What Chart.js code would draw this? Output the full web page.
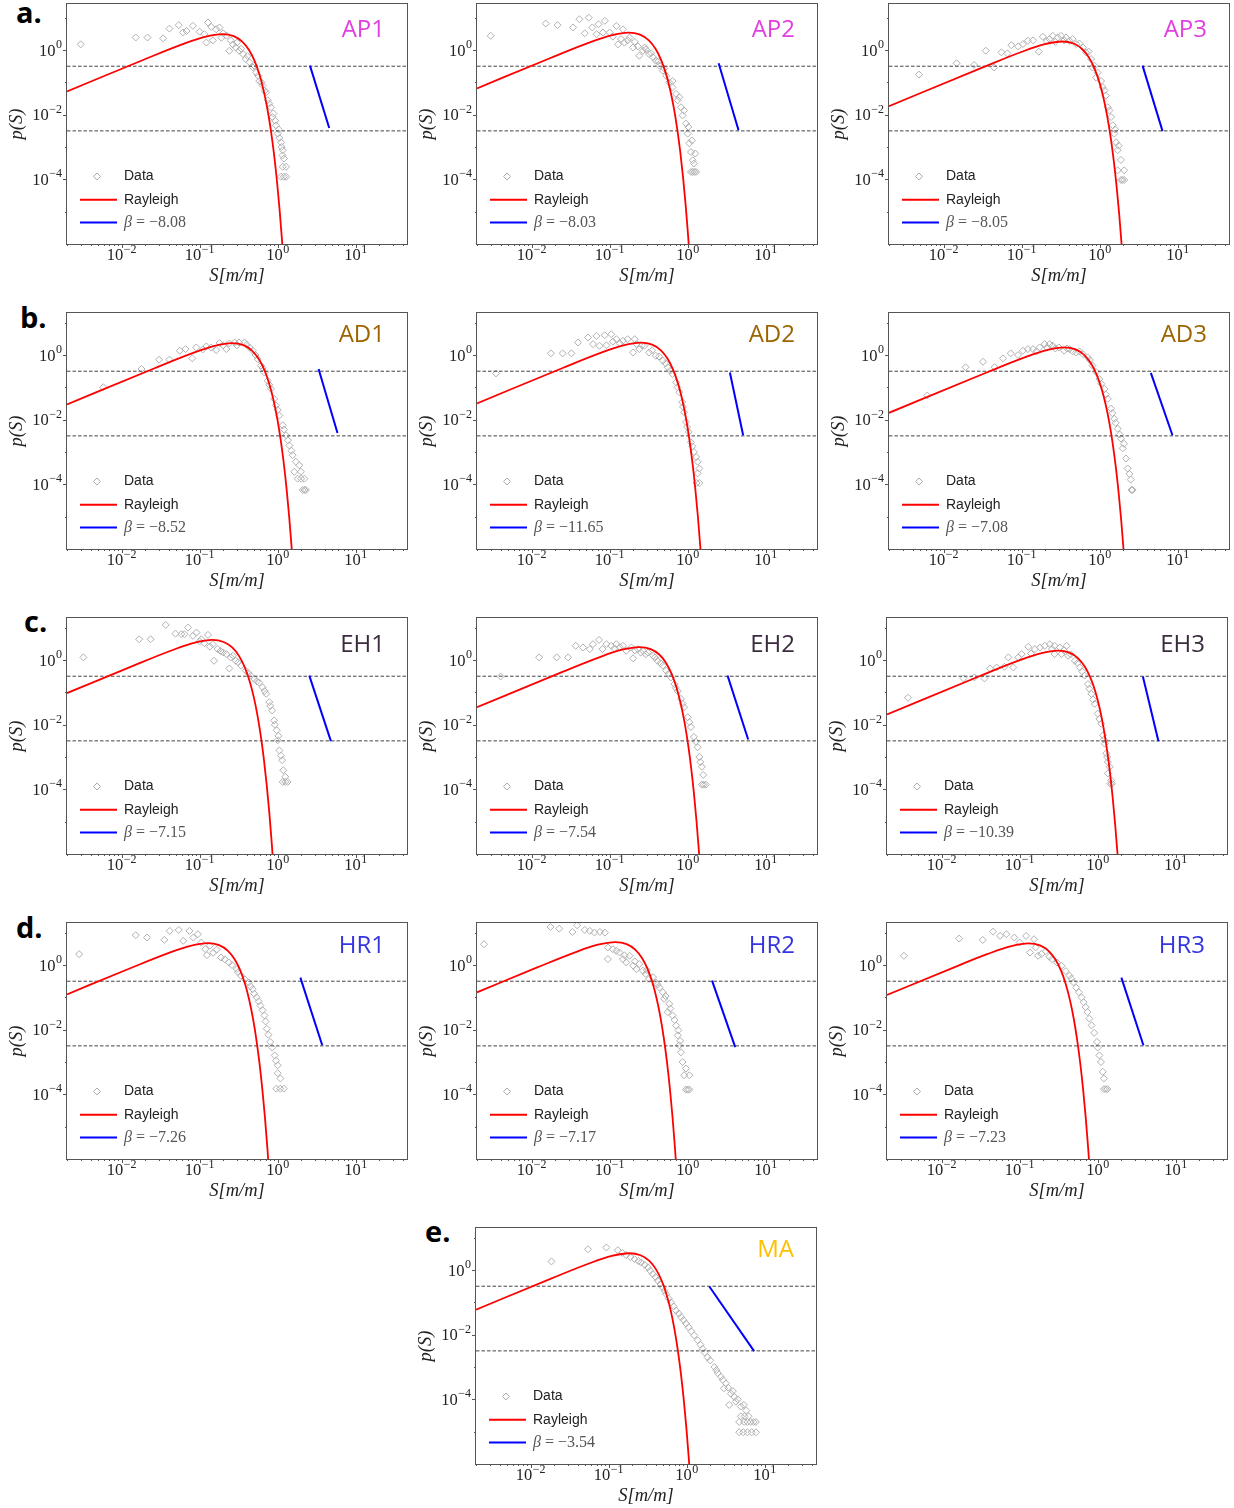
<!DOCTYPE html>
<html>
<head>
<meta charset="utf-8">
<script src="https://cdn.jsdelivr.net/npm/chart.js@4.4.1/dist/chart.umd.min.js"></script>
<style>
  body { margin: 0; background: #fff; width: 1234px; height: 1508px; position: relative; overflow: hidden; }
  canvas { position: absolute; }
  .tag { position: absolute; font: bold 29px "Open Sans", sans-serif; line-height: 29px; color: #000; white-space: nowrap; }
  .plab { position: absolute; font: 24px "Open Sans", sans-serif; line-height: 24px; white-space: nowrap; }
</style>
</head>
<body>
<script>
// axis ranges and ticks
const X_MIN = 0.002, X_MAX = 45.3;
const REF_LINES = [0.316, 0.00316];
const X_MAJOR = [0.01, 0.1, 1, 10];
const X_TICK_LABELS = ['−2', '−1', '0', '1'];
const Y_MAJOR = [1e-4, 1e-2, 1];
const Y_TICK_LABELS = ['−4', '−2', '0'];
const Y_MINOR = [1e-5, 1e-3, 1e-1, 10];

// scattered data [S, p(S)]
const AP1_DATA = [[0.003,1.5],[0.0152,2.45],[0.0215,2.45],[0.034,2.3],[0.041,4.6],[0.054,5.9],[0.061,3.5],[0.068,3.9],[0.082,5.6],[0.1,3.7],[0.115,3.1],[0.122,1.7],[0.128,7.1],[0.141,5.2],[0.148,2.0],[0.163,4.4],[0.18,5.0],[0.19,2.4],[0.2,3.3],[0.22,2.8],[0.24,0.95],[0.25,2.0],[0.267,1.5],[0.29,1.2],[0.3,1.7],[0.32,0.95],[0.34,1.1],[0.36,0.75],[0.39,0.53],[0.41,0.65],[0.435,0.42],[0.48,0.29],[0.5,0.33],[0.53,0.2],[0.56,0.16],[0.58,0.11],[0.62,0.1],[0.64,0.08],[0.68,0.055],[0.71,0.05],[0.745,0.028],[0.78,0.022],[0.82,0.017],[0.86,0.0085],[0.88,0.011],[0.95,0.0047],[0.93,0.0065],[1.0,0.0026],[1.03,0.0035],[1.1,0.0014],[1.05,0.0019],[1.16,8e-4],[1.12,1.0e-3],[1.2,4.4e-4],[1.15,5.5e-4],[1.28,2.45e-4],[1.16,2.45e-4],[1.1,1.2e-4],[1.2,1.2e-4],[1.28,1.2e-4]];
const AP2_DATA = [[0.003,2.76],[0.0152,6.6],[0.0215,5.9],[0.034,5.0],[0.041,9.0],[0.048,3.3],[0.054,10.1],[0.06,5.0],[0.068,3.1],[0.072,6.3],[0.082,3.5],[0.087,8.0],[0.1,3.5],[0.11,2.6],[0.122,5.6],[0.128,1.5],[0.14,2.2],[0.148,4.4],[0.155,1.7],[0.17,2.0],[0.18,2.45],[0.2,1.2],[0.21,1.8],[0.23,1.3],[0.24,0.67],[0.267,0.95],[0.28,1.2],[0.29,1.05],[0.32,0.75],[0.34,0.8],[0.36,0.6],[0.39,0.47],[0.42,0.45],[0.435,0.33],[0.48,0.23],[0.5,0.27],[0.53,0.16],[0.58,0.1],[0.64,0.11],[0.64,0.07],[0.71,0.044],[0.745,0.028],[0.78,0.035],[0.82,0.017],[0.86,0.0095],[0.9,0.0135],[0.95,0.0053],[1.0,0.0026],[1.02,0.0042],[1.05,0.0013],[1.1,7e-4],[1.13,0.0016],[1.16,3.9e-4],[1.2,3.1e-4],[1.25,6.3e-4],[1.1,1.7e-4],[1.16,1.7e-4],[1.22,1.7e-4],[1.28,1.7e-4]];
const AP3_DATA = [[0.00484,0.174],[0.0147,0.39],[0.0246,0.345],[0.0347,0.954],[0.0443,0.29],[0.055,0.85],[0.0656,0.79],[0.0738,1.42],[0.09,1.3],[0.104,1.53],[0.12,1.94],[0.14,2.0],[0.166,0.89],[0.187,2.57],[0.21,1.9],[0.228,2.18],[0.251,2.76],[0.27,1.8],[0.29,2.45],[0.32,2.76],[0.35,2.0],[0.37,2.45],[0.41,1.94],[0.45,2.18],[0.5,1.53],[0.55,1.6],[0.61,1.2],[0.67,0.85],[0.72,0.9],[0.775,0.53],[0.81,0.29],[0.855,0.33],[0.9,0.14],[0.94,0.2],[1.04,0.11],[1.09,0.071],[1.15,0.056],[1.2,0.039],[1.27,0.017],[1.33,0.0135],[1.4,0.0085],[1.47,0.0047],[1.54,0.0026],[1.58,0.0035],[1.62,0.0014],[1.7,8e-4],[1.75,1.1e-3],[1.87,4e-4],[1.7,1.9e-4],[2.06,1.9e-4],[1.87,9.6e-5],[1.95,9.6e-5],[2.06,9.6e-5]];
const AD1_DATA = [[0.00583,0.101],[0.018,0.37],[0.0303,0.72],[0.041,0.72],[0.0557,1.36],[0.066,1.53],[0.0805,0.79],[0.0906,1.72],[0.11,1.5],[0.122,1.85],[0.14,1.7],[0.163,1.42],[0.18,2.34],[0.2,2.0],[0.22,1.53],[0.24,2.29],[0.28,2.45],[0.3,2.0],[0.32,2.45],[0.375,2.45],[0.4,2.1],[0.435,1.72],[0.48,1.36],[0.52,1.0],[0.556,0.75],[0.61,0.47],[0.64,0.4],[0.675,0.29],[0.745,0.16],[0.78,0.12],[0.82,0.09],[0.9,0.044],[0.95,0.0276],[1.0,0.02],[1.05,0.0135],[1.16,0.0067],[1.2,0.005],[1.28,0.0033],[1.35,0.0023],[1.41,0.0016],[1.55,8e-4],[1.5,1.1e-3],[1.71,5e-4],[1.63,2.45e-4],[1.89,3.9e-4],[1.98,2.45e-4],[1.8,1.5e-4],[2.19,1.5e-4],[2.0,1.5e-4],[2.09,6.7e-5],[2.3,6.7e-5],[2.2,6.7e-5]];
const AD2_DATA = [[0.0035,0.27],[0.0177,1.13],[0.025,1.13],[0.0324,1.13],[0.0394,2.45],[0.0529,3.5],[0.0612,2.18],[0.0676,3.9],[0.074,1.94],[0.0865,4.1],[0.091,2.0],[0.105,4.4],[0.11,2.6],[0.122,3.1],[0.135,2.3],[0.148,2.76],[0.17,3.1],[0.2,1.2],[0.21,3.1],[0.22,2.2],[0.24,1.53],[0.26,2.0],[0.28,1.94],[0.32,1.2],[0.35,1.4],[0.39,0.95],[0.43,0.9],[0.48,0.67],[0.52,0.55],[0.556,0.42],[0.6,0.33],[0.64,0.26],[0.71,0.144],[0.74,0.1],[0.78,0.071],[0.85,0.035],[0.87,0.025],[0.9,0.017],[0.95,0.0085],[0.98,0.006],[1.03,0.0042],[1.1,0.002],[1.15,0.0015],[1.2,0.001],[1.28,7e-4],[1.34,5e-4],[1.41,3.1e-4],[1.34,2.2e-4],[1.3,1.1e-4],[1.41,1.1e-4]];
const AD3_DATA = [[0.00618,0.056],[0.0191,0.42],[0.032,0.62],[0.045,0.42],[0.0577,0.79],[0.0725,1.13],[0.09,1.0],[0.104,1.36],[0.12,1.53],[0.14,1.53],[0.155,1.3],[0.17,1.72],[0.197,2.18],[0.21,1.7],[0.228,2.18],[0.25,1.94],[0.27,1.6],[0.3,1.72],[0.35,1.36],[0.38,1.6],[0.41,1.53],[0.45,1.3],[0.5,1.2],[0.55,1.3],[0.61,1.07],[0.7,0.85],[0.75,0.7],[0.81,0.47],[0.9,0.3],[0.99,0.18],[1.05,0.13],[1.15,0.09],[1.2,0.06],[1.27,0.044],[1.4,0.022],[1.45,0.016],[1.54,0.0107],[1.6,0.008],[1.7,0.0053],[1.87,0.0026],[1.8,0.0035],[1.97,0.0013],[2.05,0.0018],[2.17,6.3e-4],[2.28,3.1e-4],[2.4,2.1e-4],[2.5,1.4e-4],[2.64,6.7e-5],[2.55,6.7e-5]];
const EH1_DATA = [[0.00324,1.21],[0.0168,4.4],[0.0236,4.4],[0.0368,12.2],[0.049,6.6],[0.0584,6.3],[0.064,6.3],[0.071,10.1],[0.082,5.6],[0.091,7.1],[0.1,3.8],[0.105,4.4],[0.115,3.3],[0.128,6.0],[0.135,2.6],[0.148,3.1],[0.153,0.95],[0.17,2.2],[0.185,1.9],[0.2,1.72],[0.22,1.53],[0.24,0.55],[0.25,1.2],[0.267,1.36],[0.29,0.95],[0.31,0.85],[0.34,0.67],[0.39,0.47],[0.42,0.4],[0.45,0.33],[0.5,0.26],[0.54,0.22],[0.58,0.2],[0.64,0.144],[0.68,0.11],[0.71,0.09],[0.78,0.05],[0.8,0.038],[0.85,0.0276],[0.9,0.0135],[0.92,0.01],[0.97,0.0067],[1.0,0.0033],[1.02,0.0045],[1.05,0.0016],[1.1,0.0011],[1.14,8e-4],[1.18,3.9e-4],[1.25,2.45e-4],[1.16,1.7e-4],[1.25,1.7e-4],[1.34,1.7e-4]];
const EH2_DATA = [[0.00402,0.31],[0.0125,1.21],[0.021,1.21],[0.0294,1.21],[0.0368,2.76],[0.0456,2.45],[0.0557,2.18],[0.0612,3.1],[0.0732,4.2],[0.081,2.18],[0.091,3.1],[0.105,2.76],[0.115,2.3],[0.122,3.1],[0.135,2.5],[0.148,2.76],[0.163,1.94],[0.19,2.45],[0.2,1.13],[0.21,2.0],[0.23,2.18],[0.25,1.7],[0.267,1.94],[0.29,1.5],[0.31,1.72],[0.36,1.36],[0.38,1.2],[0.41,0.95],[0.45,0.8],[0.48,0.67],[0.53,0.47],[0.57,0.38],[0.61,0.29],[0.675,0.18],[0.7,0.14],[0.745,0.11],[0.82,0.063],[0.86,0.045],[0.9,0.035],[1.0,0.017],[1.05,0.012],[1.1,0.0085],[1.2,0.0042],[1.27,0.003],[1.34,0.002],[1.41,0.001],[1.45,7e-4],[1.52,5e-4],[1.58,2.8e-4],[1.52,1.4e-4],[1.6,1.4e-4],[1.71,1.4e-4]];
const EH3_DATA = [[0.00372,0.068],[0.0191,0.27],[0.0263,0.29],[0.0354,0.27],[0.0418,0.55],[0.0508,0.59],[0.0638,0.62],[0.0716,1.21],[0.083,0.59],[0.096,1.21],[0.106,1.53],[0.129,2.57],[0.14,1.6],[0.157,2.18],[0.182,2.45],[0.21,2.76],[0.244,3.1],[0.26,2.2],[0.28,2.76],[0.28,1.53],[0.327,2.45],[0.344,1.53],[0.37,2.0],[0.4,2.76],[0.418,1.36],[0.45,1.5],[0.51,0.95],[0.55,0.8],[0.59,0.59],[0.63,0.45],[0.68,0.33],[0.75,0.18],[0.78,0.13],[0.83,0.09],[0.87,0.06],[0.915,0.044],[1.0,0.022],[1.05,0.015],[1.11,0.0107],[1.17,0.0047],[1.2,0.0035],[1.23,0.0026],[1.29,0.0013],[1.32,0.001],[1.35,7e-4],[1.42,5e-4],[1.35,3.1e-4],[1.49,1.9e-4],[1.52,1.5e-4],[1.45,1.5e-4]];
const HR1_DATA = [[0.00286,2.18],[0.0152,8.4],[0.0212,7.1],[0.0353,6.0],[0.0414,11.4],[0.054,12.2],[0.0616,5.6],[0.074,11.4],[0.083,7.1],[0.095,9.0],[0.105,4.96],[0.118,3.1],[0.124,2.03],[0.135,4.0],[0.149,2.4],[0.165,3.0],[0.188,1.71],[0.21,1.5],[0.237,1.2],[0.26,1.0],[0.3,0.75],[0.31,0.6],[0.337,0.47],[0.38,0.36],[0.425,0.29],[0.45,0.22],[0.478,0.18],[0.5,0.13],[0.536,0.1],[0.57,0.075],[0.6,0.056],[0.64,0.04],[0.676,0.0276],[0.7,0.018],[0.726,0.0107],[0.76,0.007],[0.8,0.0042],[0.85,0.0028],[0.915,0.0016],[0.95,0.0011],[1.0,7.9e-4],[1.08,3.1e-4],[1.0,4.5e-4],[1.2,1.5e-4],[0.96,1.5e-4],[1.08,1.5e-4]];
const HR2_DATA = [[0.00246,4.4],[0.0175,15.1],[0.0226,13.4],[0.0334,10.6],[0.0383,17],[0.048,12.2],[0.0557,11.4],[0.064,10.1],[0.075,10.6],[0.087,10.1],[0.095,3.5],[0.095,1.53],[0.11,3.1],[0.122,2.76],[0.134,2.45],[0.148,1.53],[0.155,2.0],[0.163,1.21],[0.18,1.94],[0.2,0.95],[0.21,1.3],[0.22,0.75],[0.24,1.07],[0.267,0.67],[0.29,0.53],[0.3,0.7],[0.32,0.37],[0.36,0.42],[0.39,0.29],[0.41,0.25],[0.435,0.2],[0.48,0.144],[0.5,0.09],[0.52,0.11],[0.556,0.035],[0.58,0.063],[0.6,0.045],[0.64,0.0276],[0.68,0.02],[0.71,0.0135],[0.745,0.0067],[0.76,0.0095],[0.78,0.0033],[0.8,0.0045],[0.82,0.002],[0.86,0.001],[0.95,6.3e-4],[0.9,3.9e-4],[1.05,3.9e-4],[0.95,1.4e-4],[1.0,1.4e-4],[1.05,1.4e-4]];
const HR3_DATA = [[0.00329,1.93],[0.0168,6.6],[0.0337,6.0],[0.0456,10.8],[0.0561,8.0],[0.0677,9.0],[0.0855,7.1],[0.1,5.0],[0.121,8.0],[0.136,2.44],[0.153,6.3],[0.16,3.5],[0.172,1.93],[0.19,2.2],[0.217,2.7],[0.24,1.8],[0.26,1.53],[0.3,1.2],[0.344,0.95],[0.39,0.65],[0.435,0.47],[0.46,0.38],[0.49,0.29],[0.53,0.2],[0.575,0.144],[0.62,0.1],[0.66,0.071],[0.7,0.05],[0.74,0.035],[0.78,0.022],[0.835,0.0136],[0.9,0.008],[0.98,0.0042],[1.0,0.0028],[1.05,0.0016],[1.1,0.001],[1.16,5e-4],[1.2,3.1e-4],[1.2,1.45e-4],[1.27,1.45e-4],[1.33,1.45e-4]];
const MA_DATA = [[0.0185,1.85],[0.0545,4.4],[0.0934,5.0],[0.131,4.1],[0.15,3.4],[0.168,2.9],[0.19,2.5],[0.215,2.18],[0.24,1.9],[0.261,1.72],[0.29,1.45],[0.318,1.21],[0.34,0.95],[0.368,0.75],[0.4,0.6],[0.426,0.47],[0.46,0.37],[0.494,0.29],[0.52,0.23],[0.545,0.18],[0.59,0.13],[0.631,0.1],[0.68,0.075],[0.73,0.056],[0.79,0.045],[0.846,0.035],[0.91,0.028],[0.98,0.022],[1.06,0.017],[1.14,0.0128],[1.25,0.0095],[1.38,0.0067],[1.5,0.0049],[1.6,0.0037],[1.7,0.0028],[1.85,0.002],[2.0,0.0016],[2.26,0.001],[2.4,8e-4],[2.5,6.5e-4],[2.74,5e-4],[2.9,4e-4],[3.18,3.1e-4],[3.0,2.2e-4],[3.4,2.3e-4],[3.68,1.5e-4],[3.9,1.8e-4],[4.06,1.2e-4],[3.5,6.7e-5],[4.26,8.5e-5],[4.5,1.0e-4],[4.94,6e-5],[5.4,6.7e-5],[5.8,4.5e-5],[4.94,3e-5],[5.5,3e-5],[6.2,3e-5],[4.7,2e-5],[5.45,2e-5],[6.0,2e-5],[6.6,2e-5],[7.2,2e-5],[7.7,2e-5],[4.7,9.6e-6],[5.3,9.6e-6],[6.0,9.6e-6],[6.8,9.6e-6],[7.7,9.6e-6]];

// Rayleigh curves [S, p(S)]
const AP1_RAY = [[0.002,0.0526],[0.0195,0.51],[0.0585,1.471],[0.117,2.57],[0.195,3.11],[0.273,2.694],[0.351,1.827],[0.429,1.003],[0.507,0.454],[0.585,0.171],[0.663,0.0538],[0.741,0.01426],[0.819,0.00318],[0.897,6.0e-4],[0.975,9.54e-5],[1.053,1.29e-5],[1.131,1.47e-6],[1.17,4.7e-7]];
const AP2_RAY = [[0.002,0.0653],[0.0175,0.569],[0.0525,1.639],[0.105,2.864],[0.175,3.466],[0.245,3.002],[0.315,2.035],[0.385,1.118],[0.455,0.506],[0.525,0.19],[0.595,0.06],[0.665,0.0159],[0.735,0.00354],[0.805,6.69e-4],[0.875,1.06e-4],[0.945,1.44e-5],[1.015,1.64e-6],[1.05,5.2e-7]];
const AP3_RAY = [[0.002,0.01837],[0.033,0.302],[0.099,0.869],[0.198,1.519],[0.33,1.838],[0.462,1.592],[0.594,1.079],[0.726,0.593],[0.858,0.268],[0.99,0.101],[1.122,0.0318],[1.254,0.00842],[1.386,0.00188],[1.518,3.55e-4],[1.65,5.64e-5],[1.782,7.64e-6],[1.914,8.7e-7],[1.98,2.77e-7]];
const AD1_RAY = [[0.002,0.0296],[0.026,0.383],[0.078,1.103],[0.156,1.928],[0.26,2.333],[0.364,2.021],[0.468,1.37],[0.572,0.752],[0.676,0.34],[0.78,0.128],[0.884,0.0404],[0.988,0.0107],[1.092,0.00238],[1.196,4.5e-4],[1.3,7.15e-5],[1.404,9.69e-6],[1.508,1.1e-6],[1.56,3.5e-7]];
const AD2_RAY = [[0.002,0.032],[0.025,0.398],[0.075,1.147],[0.15,2.005],[0.25,2.426],[0.35,2.102],[0.45,1.425],[0.55,0.782],[0.65,0.354],[0.75,0.133],[0.85,0.042],[0.95,0.0111],[1.05,0.00248],[1.15,4.68e-4],[1.25,7.44e-5],[1.35,1.01e-5],[1.45,1.15e-6],[1.5,3.66e-7]];
const AD3_RAY = [[0.002,0.0163],[0.035,0.284],[0.105,0.819],[0.21,1.432],[0.35,1.733],[0.49,1.501],[0.63,1.018],[0.77,0.559],[0.91,0.253],[1.05,0.0952],[1.19,0.03],[1.33,0.00794],[1.47,0.00177],[1.61,3.34e-4],[1.75,5.31e-5],[1.89,7.2e-6],[2.03,8.2e-7],[2.1,2.6e-7]];
const EH1_RAY = [[0.002,0.0951],[0.0145,0.686],[0.0435,1.978],[0.087,3.457],[0.145,4.183],[0.203,3.624],[0.261,2.457],[0.319,1.349],[0.377,0.61],[0.435,0.23],[0.493,0.0724],[0.551,0.0192],[0.609,0.00428],[0.667,8.07e-4],[0.725,1.28e-4],[0.783,1.74e-5],[0.841,1.98e-6],[0.87,6.3e-7]];
const EH2_RAY = [[0.002,0.0347],[0.024,0.415],[0.072,1.195],[0.144,2.088],[0.24,2.527],[0.336,2.189],[0.432,1.484],[0.528,0.815],[0.624,0.369],[0.72,0.139],[0.816,0.0438],[0.912,0.0116],[1.008,0.00258],[1.104,4.88e-4],[1.2,7.75e-5],[1.296,1.05e-5],[1.392,1.2e-6],[1.44,3.8e-7]];
const EH3_RAY = [[0.002,0.0208],[0.031,0.321],[0.093,0.925],[0.186,1.617],[0.31,1.956],[0.434,1.695],[0.558,1.149],[0.682,0.631],[0.806,0.285],[0.93,0.1075],[1.054,0.0339],[1.178,0.00897],[1.302,0.002],[1.426,3.77e-4],[1.55,6.0e-5],[1.674,8.13e-6],[1.798,9.3e-7],[1.86,2.95e-7]];
const HR1_RAY = [[0.002,0.124],[0.0127,0.783],[0.0381,2.258],[0.0762,3.946],[0.127,4.776],[0.1778,4.137],[0.2286,2.805],[0.2794,1.54],[0.3302,0.697],[0.381,0.262],[0.4318,0.0827],[0.4826,0.0219],[0.5334,0.00488],[0.5842,9.21e-4],[0.635,1.46e-4],[0.6858,1.98e-5],[0.7366,2.26e-6],[0.762,7.2e-7]];
const HR2_RAY = [[0.002,0.1436],[0.0118,0.843],[0.0354,2.431],[0.0708,4.248],[0.118,5.14],[0.1652,4.453],[0.2124,3.019],[0.2596,1.658],[0.3068,0.75],[0.354,0.2825],[0.4012,0.089],[0.4484,0.0236],[0.4956,0.00525],[0.5428,9.92e-4],[0.59,1.58e-4],[0.6372,2.14e-5],[0.6844,2.43e-6],[0.708,7.7e-7]];
const HR3_RAY = [[0.002,0.1183],[0.013,0.765],[0.039,2.206],[0.078,3.855],[0.13,4.665],[0.182,4.041],[0.234,2.74],[0.286,1.505],[0.338,0.681],[0.39,0.256],[0.442,0.0808],[0.494,0.0214],[0.546,0.00477],[0.598,9.0e-4],[0.65,1.43e-4],[0.702,1.94e-5],[0.754,2.21e-6],[0.78,7.0e-7]];
const MA_RAY = [[0.002,0.0597],[0.0183,0.544],[0.0549,1.567],[0.1098,2.739],[0.183,3.314],[0.2562,2.871],[0.3294,1.946],[0.4026,1.069],[0.4758,0.484],[0.549,0.182],[0.6222,0.0574],[0.6954,0.0152],[0.7686,0.00339],[0.8418,6.39e-4],[0.915,1.02e-4],[0.9882,1.38e-5],[1.0614,1.57e-6],[1.098,5.0e-7]];

// power-law fit segments (blue)
const AP1_FIT = [[2.59,0.33],[4.57,0.0039]];
const AP2_FIT = [[2.49,0.39],[4.48,0.0033]];
const AP3_FIT = [[3.54,0.33],[6.38,0.0031]];
const AD1_FIT = [[3.34,0.37],[5.83,0.0039]];
const AD2_FIT = [[3.47,0.29],[5.13,0.0033]];
const AD3_FIT = [[4.52,0.28],[8.55,0.0033]];
const EH1_FIT = [[2.54,0.33],[4.8,0.0031]];
const EH2_FIT = [[3.24,0.33],[5.95,0.0035]];
const EH3_FIT = [[3.79,0.31],[6.0,0.0031]];
const HR1_FIT = [[1.95,0.41],[3.72,0.0033]];
const HR2_FIT = [[2.05,0.33],[4.06,0.0029]];
const HR3_FIT = [[2.01,0.41],[3.85,0.0033]];
const MA_FIT = [[1.95,0.31],[7.3,0.0031]];

const PANELS = [
  { name: 'AP1', color: '#e040e0', beta: '−8.08', data: AP1_DATA, ray: AP1_RAY, fit: AP1_FIT },
  { name: 'AP2', color: '#e040e0', beta: '−8.03', data: AP2_DATA, ray: AP2_RAY, fit: AP2_FIT },
  { name: 'AP3', color: '#e040e0', beta: '−8.05', data: AP3_DATA, ray: AP3_RAY, fit: AP3_FIT },
  { name: 'AD1', color: '#9c6500', beta: '−8.52', data: AD1_DATA, ray: AD1_RAY, fit: AD1_FIT },
  { name: 'AD2', color: '#9c6500', beta: '−11.65', data: AD2_DATA, ray: AD2_RAY, fit: AD2_FIT },
  { name: 'AD3', color: '#9c6500', beta: '−7.08', data: AD3_DATA, ray: AD3_RAY, fit: AD3_FIT },
  { name: 'EH1', color: '#3b2b3e', beta: '−7.15', data: EH1_DATA, ray: EH1_RAY, fit: EH1_FIT },
  { name: 'EH2', color: '#3b2b3e', beta: '−7.54', data: EH2_DATA, ray: EH2_RAY, fit: EH2_FIT },
  { name: 'EH3', color: '#3b2b3e', beta: '−10.39', data: EH3_DATA, ray: EH3_RAY, fit: EH3_FIT },
  { name: 'HR1', color: '#3535e0', beta: '−7.26', data: HR1_DATA, ray: HR1_RAY, fit: HR1_FIT },
  { name: 'HR2', color: '#3535e0', beta: '−7.17', data: HR2_DATA, ray: HR2_RAY, fit: HR2_FIT },
  { name: 'HR3', color: '#3535e0', beta: '−7.23', data: HR3_DATA, ray: HR3_RAY, fit: HR3_FIT },
  { name: 'MA',  color: '#ffc000', beta: '−3.54', data: MA_DATA, ray: MA_RAY, fit: MA_FIT }
];

// layout: plot left, plot top, plot height, y max, label baseline
const PLOT_W = 341;
const BOXES = [
  [67, 3, 241, 26.6, 37], [477, 3, 241, 26.6, 37], [889, 3, 241, 26.6, 37],
  [67, 312, 237, 20, 342], [477, 312, 237, 20, 342], [889, 312, 237, 20, 342],
  [67, 617, 237, 20, 652], [477, 617, 237, 20, 652], [887, 617, 237, 20, 652],
  [67, 922, 237, 20, 953], [477, 922, 237, 20, 953], [887, 922, 237, 20, 953],
  [476, 1227, 237, 20, 1257]
];
const ROW_TAGS = [['a.', 16, 23], ['b.', 20, 328], ['c.', 24, 632], ['d.', 16, 938], ['e.', 425, 1242]];

const X_MINOR = [];
for (let k = -3; k <= 1; k++) for (let d = 2; d <= 9; d++) {
  const v = d * Math.pow(10, k);
  if (v >= X_MIN && v <= X_MAX) X_MINOR.push(v);
}

const SERIF = '"Liberation Serif", "DejaVu Serif", serif';

function drawPow(ctx, exp, x, y, align) {
  ctx.font = '16.5px ' + SERIF;
  const wb = ctx.measureText('10').width;
  ctx.font = '12px ' + SERIF;
  const ws = ctx.measureText(exp).width;
  const total = wb + ws + 0.5;
  const x0 = align === 'center' ? x - total / 2 : x - total;
  ctx.textAlign = 'left';
  ctx.textBaseline = 'alphabetic';
  ctx.font = '16.5px ' + SERIF;
  ctx.fillText('10', x0, y);
  ctx.font = '12px ' + SERIF;
  ctx.fillText(exp, x0 + wb + 0.5, y - 7.5);
}

function decor(p) {
  return {
    id: 'decor',
    afterDraw(chart) {
      const { ctx, chartArea: a, scales: { x, y } } = chart;
      ctx.save();
      ctx.strokeStyle = '#555';
      ctx.lineWidth = 1;
      ctx.strokeRect(a.left - 0.5, a.top - 0.5, a.right - a.left + 1, a.bottom - a.top + 1);

      // tick marks
      ctx.beginPath();
      const tx = (v, len) => {
        const px = Math.round(x.getPixelForValue(v)) + 0.5;
        ctx.moveTo(px, a.bottom); ctx.lineTo(px, a.bottom + len);
      };
      const ty = (v, len) => {
        const py = Math.round(y.getPixelForValue(v)) + 0.5;
        if (py < a.top || py > a.bottom) return;
        ctx.moveTo(a.left, py); ctx.lineTo(a.left - len, py);
      };
      X_MAJOR.forEach(v => tx(v, 4));
      X_MINOR.forEach(v => tx(v, 2));
      Y_MAJOR.forEach(v => ty(v, 4));
      Y_MINOR.forEach(v => ty(v, 2));
      ctx.stroke();

      // tick labels
      ctx.fillStyle = '#222';
      X_MAJOR.forEach((v, k) => drawPow(ctx, X_TICK_LABELS[k], x.getPixelForValue(v), a.bottom + 16, 'center'));
      Y_MAJOR.forEach((v, k) => drawPow(ctx, Y_TICK_LABELS[k], a.left - 5, y.getPixelForValue(v) + 5.5, 'right'));

      // legend
      const y0 = y.getPixelForValue(1);
      const lx = a.left;
      const r1 = y0 + 126.4, r2 = y0 + 149.7, r3 = y0 + 172.4;
      ctx.strokeStyle = '#aaaaaa';
      ctx.lineWidth = 1;
      ctx.beginPath();
      ctx.moveTo(lx + 30, r1 - 3.5); ctx.lineTo(lx + 33.5, r1); ctx.lineTo(lx + 30, r1 + 3.5); ctx.lineTo(lx + 26.5, r1); ctx.closePath();
      ctx.stroke();
      ctx.lineWidth = 2;
      ctx.strokeStyle = '#ff0000';
      ctx.beginPath(); ctx.moveTo(lx + 13, r2); ctx.lineTo(lx + 50, r2); ctx.stroke();
      ctx.strokeStyle = '#0000ff';
      ctx.beginPath(); ctx.moveTo(lx + 13, r3); ctx.lineTo(lx + 50, r3); ctx.stroke();
      ctx.fillStyle = '#222';
      ctx.textAlign = 'left';
      ctx.textBaseline = 'middle';
      ctx.font = '14px "Liberation Sans", sans-serif';
      ctx.fillText('Data', lx + 57, r1);
      ctx.fillText('Rayleigh', lx + 57, r2);
      ctx.fillStyle = '#555';
      ctx.font = 'italic 16px ' + SERIF;
      ctx.fillText('β', lx + 57, r3);
      const wb = ctx.measureText('β').width;
      ctx.font = '16px ' + SERIF;
      ctx.fillText(' = ' + p.beta, lx + 57 + wb, r3);
      ctx.restore();
    }
  };
}

const pts = arr => arr.map(([x, y]) => ({ x, y }));

ROW_TAGS.forEach(([t, x, base]) => {
  const d = document.createElement('div');
  d.className = 'tag';
  d.textContent = t;
  d.style.left = x + 'px';
  d.style.top = (base - 25.8) + 'px';
  document.body.appendChild(d);
});

PANELS.forEach((p, i) => {
  const [L, T, H, yMax, labY] = BOXES[i];
  const cv = document.createElement('canvas');
  cv.width = 66 + PLOT_W + 4;
  cv.height = 4 + H + 45;
  cv.style.left = (L - 66) + 'px';
  cv.style.top = (T - 4) + 'px';
  document.body.appendChild(cv);

  const lab = document.createElement('div');
  lab.className = 'plab';
  lab.textContent = p.name;
  lab.style.color = p.color;
  lab.style.right = (1234 - (L + PLOT_W - 23)) + 'px';
  lab.style.top = (labY - 21.3) + 'px';
  document.body.appendChild(lab);

  const refSet = v => ({
    data: [{ x: X_MIN, y: v }, { x: X_MAX, y: v }],
    showLine: true, borderColor: '#444', borderWidth: 1, borderDash: [3.5, 2],
    pointRadius: 0, order: 3
  });

  new Chart(cv, {
    type: 'scatter',
    data: {
      datasets: [
        { label: 'Rayleigh', data: pts(p.ray), showLine: true, borderColor: '#ff0000', borderWidth: 1.8,
          pointRadius: 0, cubicInterpolationMode: 'monotone', order: 1 },
        { label: 'fit', data: pts(p.fit), showLine: true, borderColor: '#0000ff', borderWidth: 2,
          pointRadius: 0, order: 2 },
        refSet(REF_LINES[0]),
        refSet(REF_LINES[1]),
        { label: 'Data', data: pts(p.data), pointStyle: 'rectRot', pointRadius: 3.5, borderWidth: 1,
          borderColor: '#b0b0b0', backgroundColor: 'rgba(0,0,0,0)', order: 5 }
      ]
    },
    options: {
      responsive: false,
      animation: false,
      events: [],
      layout: { padding: { top: 4, right: 4, left: 0, bottom: 0 } },
      plugins: { legend: { display: false }, tooltip: { enabled: false } },
      scales: {
        x: {
          type: 'logarithmic', min: X_MIN, max: X_MAX,
          grid: { display: false, drawTicks: false }, border: { display: false },
          ticks: { display: false },
          title: { display: true, text: 'S[m/m]', color: '#222', padding: { top: 0, bottom: 2 },
                   font: { family: SERIF, size: 18.5, style: 'italic' } },
          afterFit: s => { s.height = 45; }
        },
        y: {
          type: 'logarithmic', min: 1e-6, max: yMax,
          grid: { display: false, drawTicks: false }, border: { display: false },
          ticks: { display: false },
          title: { display: true, text: 'p(S)', color: '#222', padding: { top: 5, bottom: 0 },
                   font: { family: SERIF, size: 18.5, style: 'italic' } },
          afterFit: s => { s.width = 66; }
        }
      }
    },
    plugins: [decor(p)]
  });
});
</script>
</body>
</html>
